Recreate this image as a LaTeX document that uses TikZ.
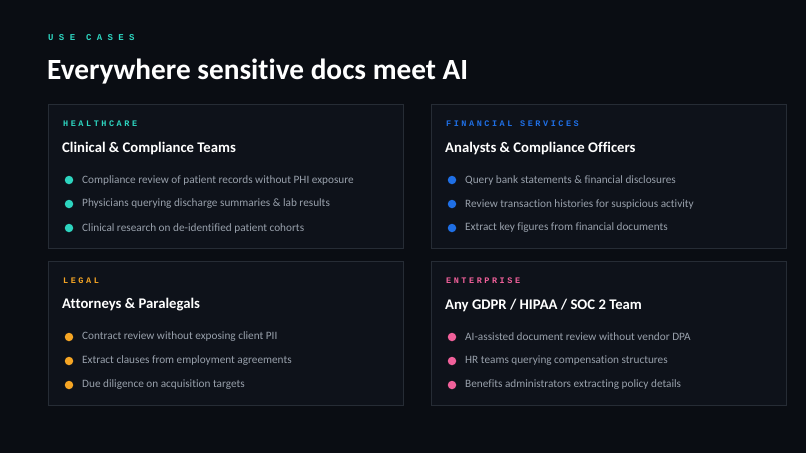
\documentclass[tikz,border=0pt]{standalone}
\usepackage{fontspec}
\setmainfont[Ligatures=NoCommon]{Carlito}
\newfontfamily\lblfont[LetterSpace=30]{Liberation Mono}
\newfontfamily\ucfont[LetterSpace=60]{Liberation Mono}
\definecolor{bg}{HTML}{0A0D13}
\definecolor{cardbg}{HTML}{0E121A}
\definecolor{cardline}{HTML}{262C35}
\definecolor{teal}{HTML}{2DD4BF}
\definecolor{blue}{HTML}{1F6FE5}
\definecolor{orange}{HTML}{F5A524}
\definecolor{pink}{HTML}{F0609A}
\definecolor{body}{HTML}{98A0AB}
\tikzset{x=1pt,y=-1pt,
 card/.style={draw=cardline,fill=cardbg,line width=0.8pt},
 lbl/.style={anchor=west,inner sep=0,font=\lblfont\bfseries\fontsize{8.5}{9}\selectfont},
 ttl/.style={anchor=west,inner sep=0,text=white,font=\bfseries\fontsize{14.7}{16}\selectfont},
 itm/.style={anchor=west,inner sep=0,text=body,font=\fontsize{11.25}{13}\selectfont},
 dot/.style={circle,inner sep=0,minimum size=8.5pt}}
\newcommand{\card}[7]{%
 \draw[card] (#1,#2) rectangle ++(355,144);
 \node[lbl,text=#3] (#7l) at (#1+15,#2+20) {#4};
 \node[ttl] (#7t) at (#1+14,#2+44) {#5};
 \foreach \t [count=\i] in {#6}{
   \node[dot,fill=#3] (#7d\i) at (#1+21,#2+52+24*\i) {};
   \node[itm] (#7i\i) at (#1+34,#2+52+24*\i) {\t};}}
\begin{document}
\begin{tikzpicture}
\fill[bg] (0,0) rectangle (806,453);
\node[anchor=west,inner sep=0,text=teal,font=\ucfont\bfseries\fontsize{9}{10}\selectfont] (uc) at (48,38) {USE CASES};
\node[anchor=west,inner sep=0,text=white,font=\bfseries\fontsize{29.3}{32}\selectfont] (hd) at (47,72) {Everywhere sensitive docs meet AI};
\card{48}{104}{teal}{HEALTHCARE}{Clinical \& Compliance Teams}{Compliance review of patient records without PHI exposure,Physicians querying discharge summaries \& lab results,Clinical research on de-identified patient cohorts}{a}
\card{431}{104}{blue}{FINANCIAL SERVICES}{Analysts \& Compliance Officers}{Query bank statements \& financial disclosures,Review transaction histories for suspicious activity,Extract key figures from financial documents}{b}
\card{48}{261}{orange}{LEGAL}{Attorneys \& Paralegals}{Contract review without exposing client PII,Extract clauses from employment agreements,Due diligence on acquisition targets}{c}
\card{431}{261}{pink}{ENTERPRISE}{Any GDPR / HIPAA / SOC 2 Team}{AI-assisted document review without vendor DPA,HR teams querying compensation structures,Benefits administrators extracting policy details}{d}
\end{tikzpicture}
\end{document}
